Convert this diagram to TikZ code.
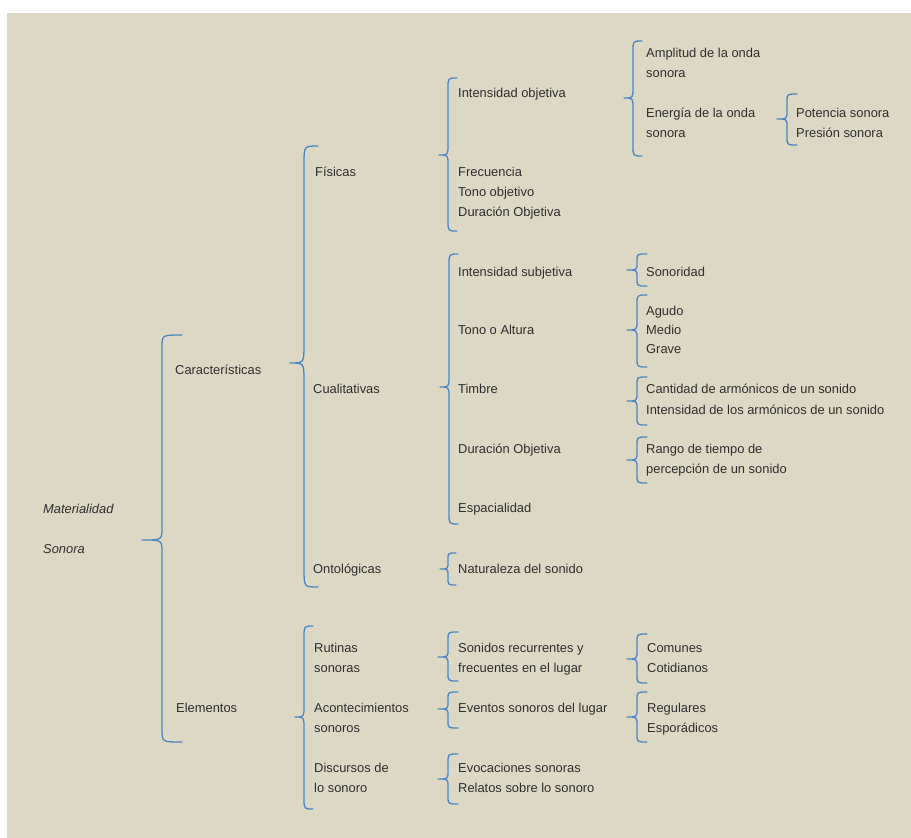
\documentclass[tikz,border=0pt]{standalone}
\usepackage{fontspec}
\setmainfont{Liberation Sans}
\definecolor{bgc}{HTML}{DDD8C4}
\definecolor{brc}{HTML}{4A86C2}
\definecolor{txc}{HTML}{2E2E2E}
% xend, ytop, ytip, ybot, amp, r
\newcommand{\curlybr}[6]{%
  \draw[bracestyle] (#1,#2) .. controls ({#1-#5},#2) .. ({#1-#5},{#2+#6})
    -- ({#1-#5},{#3-#6}) .. controls ({#1-#5},#3) .. ({#1-2*#5},#3)
    .. controls ({#1-#5},#3) .. ({#1-#5},{#3+#6})
    -- ({#1-#5},{#4-#6}) .. controls ({#1-#5},#4) .. (#1,#4);}
\tikzset{
  txt/.style={anchor=base west, inner sep=0pt, text=txc, align=left,
    font=\fontsize{12.9}{20}\selectfont},
  bracestyle/.style={draw=brc, line width=1.3pt, line cap=round, line join=round}
}
\begin{document}
\begin{tikzpicture}[x=1pt,y=-1pt]
\useasboundingbox (0,0) rectangle (911,838);
\fill[white] (0,0) rectangle (911,838);
\fill[bgc] (7,13) rectangle (911,838);

% (multi-line nodes are placed at the baseline of their last line)
% level 0
\node[txt, font=\fontsize{12.9}{20}\selectfont\itshape] (root) at (43,553) {Materialidad\\[20pt]Sonora};

% level 1
\node[txt] (car) at (175,374) {Características};
\node[txt] (ele) at (176,712) {Elementos};

% level 2
\node[txt] (fis) at (315,176) {Físicas};
\node[txt] (cua) at (313,393) {Cualitativas};
\node[txt] (ont) at (313,573) {Ontológicas};
\node[txt] (rut) at (314,672) {Rutinas\\sonoras};
\node[txt] (aco) at (314,732) {Acontecimientos\\sonoros};
\node[txt] (dis) at (314,792) {Discursos de\\lo sonoro};

% level 3
\node[txt] (iob) at (458,97) {Intensidad objetiva};
\node[txt] (fre) at (458,216) {Frecuencia\\Tono objetivo\\Duración Objetiva};
\node[txt] (isu) at (458,276) {Intensidad subjetiva};
\node[txt] (ton) at (458,334) {Tono o Altura};
\node[txt] (tim) at (458,393) {Timbre};
\node[txt] (dur) at (458,453) {Duración Objetiva};
\node[txt] (esp) at (458,512) {Espacialidad};
\node[txt] (nat) at (458,573) {Naturaleza del sonido};
\node[txt] (son) at (458,672) {Sonidos recurrentes y\\frecuentes en el lugar};
\node[txt] (eve) at (458,712) {Eventos sonoros del lugar};
\node[txt] (evo) at (458,792) {Evocaciones sonoras\\Relatos sobre lo sonoro};

% level 4
\node[txt] (amp) at (646,77) {Amplitud de la onda\\sonora};
\node[txt] (ene) at (646,137) {Energía de la onda\\sonora};
\node[txt] (snr) at (646,276) {Sonoridad};
\node[txt, font=\fontsize{12.9}{19}\selectfont] (agu) at (646,353) {Agudo\\Medio\\Grave};
\node[txt, font=\fontsize{12.9}{21}\selectfont] (can) at (646,414) {Cantidad de armónicos de un sonido\\Intensidad de los armónicos de un sonido};
\node[txt] (ran) at (646,473) {Rango de tiempo de\\percepción de un sonido};
\node[txt] (com) at (647,672) {Comunes\\Cotidianos};
\node[txt] (reg) at (647,732) {Regulares\\Esporádicos};

% level 5
\node[txt] (pot) at (796,137) {Potencia sonora\\Presión sonora};

% braces
\curlybr{182}{335}{540}{742}{20}{12}
\curlybr{318}{146}{363}{587}{14}{18}
\curlybr{457}{78}{155}{231}{9}{10}
\curlybr{642}{41}{98}{156}{9}{10}
\curlybr{797}{94}{119}{145}{10}{8}
\curlybr{458}{254}{387}{524}{9}{11}
\curlybr{647}{254}{270}{286}{10}{7}
\curlybr{647}{295}{330}{367}{10}{9}
\curlybr{647}{377}{401}{425}{10}{8}
\curlybr{647}{437}{460}{483}{10}{8}
\curlybr{456}{553}{569}{585}{8}{7}
\curlybr{313}{626}{717}{809}{9}{11}
\curlybr{458}{632}{657}{681}{10}{8}
\curlybr{647}{634}{659}{683}{10}{8}
\curlybr{458}{692}{709}{728}{10}{7}
\curlybr{647}{692}{717}{742}{10}{8}
\curlybr{458}{754}{779}{804}{10}{8}
\end{tikzpicture}
\end{document}
